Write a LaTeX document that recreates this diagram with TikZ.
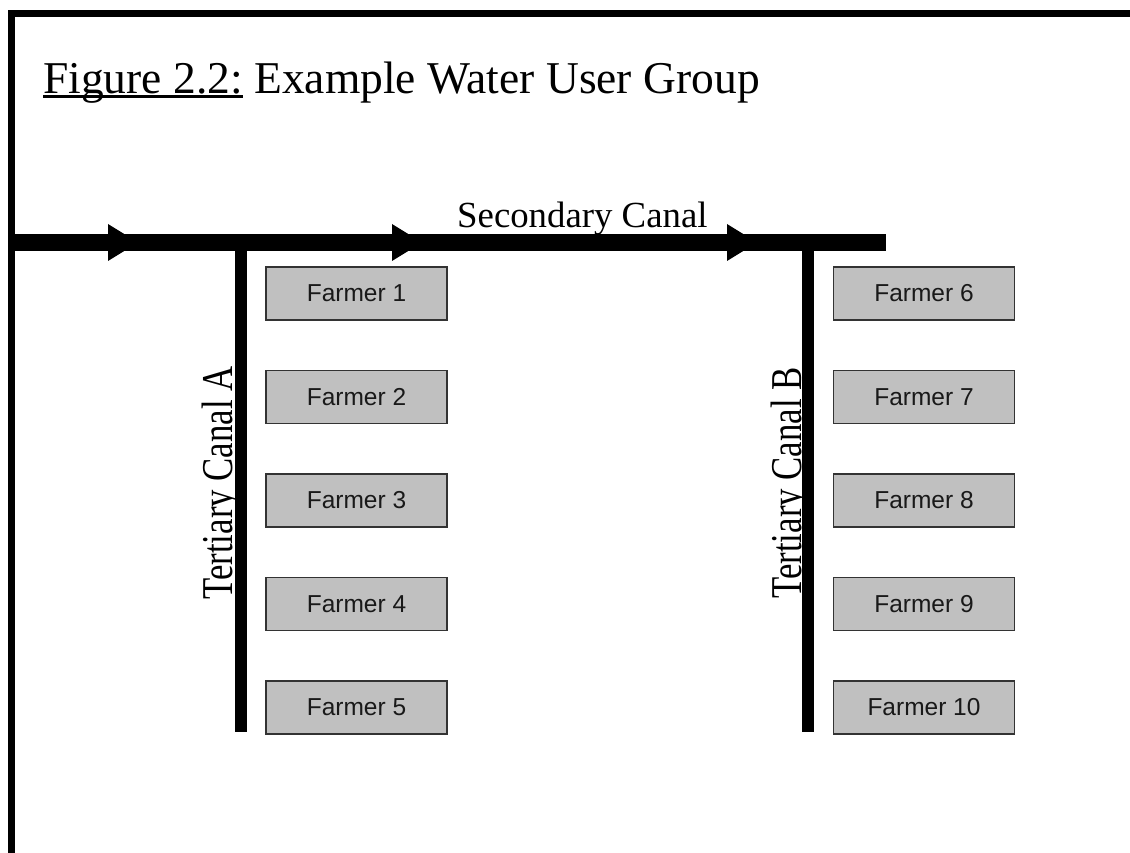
\documentclass[tikz,border=0pt]{standalone}
\usepackage{graphicx}
\usepackage{fontspec}
\setmainfont{Liberation Serif}
\newfontfamily\farmerfont{Liberation Sans}
\definecolor{boxgray}{HTML}{C0C0C0}
% underline set close under the baseline, through the descenders
\newcommand\ulfig[1]{\setbox0\hbox{#1}\rlap{\rule[-3.6pt]{\wd0}{2.6pt}}\box0}
\begin{document}
\begin{tikzpicture}[x=1pt,y=-1pt,
  farmer/.style={draw=black!80, line width=1.2pt, fill=boxgray,
    minimum width=181pt, minimum height=53pt, inner sep=0pt,
    font=\farmerfont\fontsize{24.5}{28}\selectfont, text=black!90},
  canal/.style={line width=17pt},
  tertiary/.style={line width=12pt},
  canaltext/.style={inner sep=0pt, font=\fontsize{36.8}{40}\selectfont},
  sidetext/.style={inner sep=0pt, rotate=90, anchor=base}]
\useasboundingbox (0,0) rectangle (1130,853);
\fill[white] (0,0) rectangle (1130,853);
% frame along the top and left
\draw[line width=7pt, line join=miter] (11.5,853) -- (11.5,13.5) -- (1130,13.5);
% title
\node[anchor=base west, inner sep=0pt, font=\fontsize{45.5}{50}\selectfont] (title)
  at (43,94) {\ulfig{Figure 2.2:}\ Example Water User Group};
% canal network
\coordinate (inflow) at (15,242.5);
\coordinate (junctionA) at (241,242.5);
\coordinate (junctionB) at (808,242.5);
\coordinate (canalEnd) at (886,242.5);
\coordinate (endA) at (241,732);
\coordinate (endB) at (808,732);
\draw[canal] (inflow) -- (canalEnd);
\draw[tertiary] (junctionA) -- (endA);
\draw[tertiary] (junctionB) -- (endB);
% flow direction marks on the secondary canal
\foreach \bx in {108,392,727}
  \fill (\bx,224) -- (\bx+30,242.5) -- (\bx,261) -- cycle;
% canal names
\node[canaltext, anchor=base west] (secondary) at (457,228) {Secondary Canal};
\node[sidetext] (labelA) at (232,483)
  {\scalebox{0.79}[1]{\fontsize{44}{48}\selectfont Tertiary Canal A}};
\node[sidetext] (labelB) at (801,483)
  {\scalebox{0.79}[1]{\fontsize{44}{48}\selectfont Tertiary Canal B}};
% farm plots along each tertiary canal
\foreach \i/\y in {1/293.5,2/397,3/500.5,4/604,5/707.5}
  \node[farmer] (farmer\i) at (356.5,\y) {Farmer \i};
\foreach \i/\y in {6/293.5,7/397,8/500.5,9/604,10/707.5}
  \node[farmer] (farmer\i) at (924,\y) {Farmer \i};
\end{tikzpicture}
\end{document}
